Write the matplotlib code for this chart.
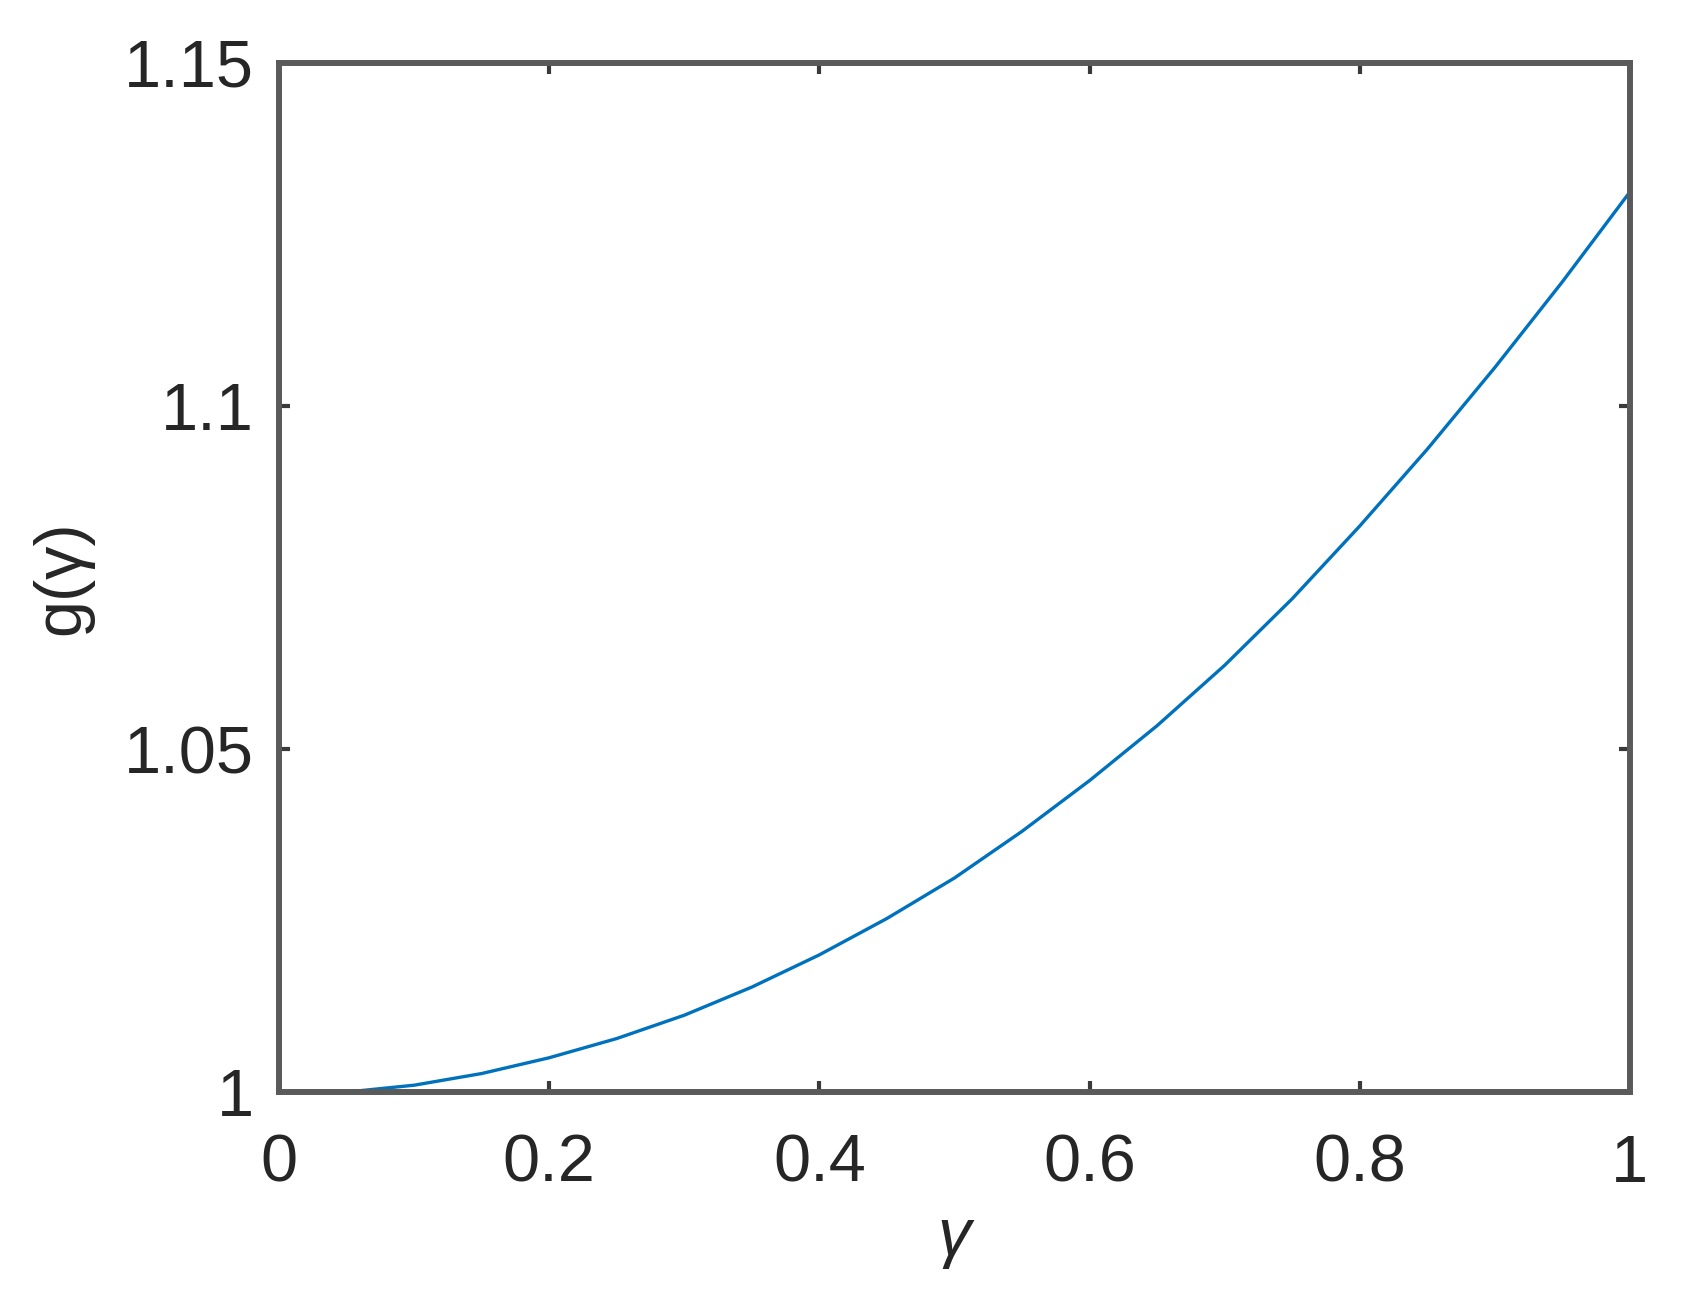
import matplotlib
matplotlib.use("Agg")
import matplotlib.pyplot as plt

# Dados
gamma = [0.05, 0.10, 0.15, 0.20, 0.25, 0.30, 0.35, 0.40, 0.45, 0.50,
         0.55, 0.60, 0.65, 0.70, 0.75, 0.80, 0.85, 0.90, 0.95, 1.00]
g = [1.0000, 1.0010, 1.0027, 1.0050, 1.0078, 1.0112, 1.0153, 1.0200, 1.0253, 1.0312,
     1.0380, 1.0454, 1.0534, 1.0622, 1.0719, 1.0825, 1.0937, 1.1056, 1.1181, 1.1312]

xticks = [0, 0.2, 0.4, 0.6, 0.8, 1]
xtick_labels = ['0', '0.2', '0.4', '0.6', '0.8', '1']
yticks = [1, 1.05, 1.1, 1.15]
ytick_labels = ['1', '1.05', '1.1', '1.15']

plt.rcParams['font.family'] = ['Liberation Sans', 'DejaVu Sans']

fig = plt.figure(figsize=(16.95, 13.11), dpi=100)
ax = fig.add_axes([0.1646, 0.167, 0.797, 0.785])

ax.plot(gamma, g, color='#0072BD', linewidth=2.4, solid_joinstyle='round')

ax.set_xlim(0, 1)
ax.set_ylim(1, 1.15)
ax.set_xticks(xticks)
ax.set_xticklabels(xtick_labels)
ax.set_yticks(yticks)
ax.set_yticklabels(ytick_labels)

for s in ax.spines.values():
    s.set_color('#5a5a5a')
    s.set_linewidth(4.3)

ax.tick_params(direction='in', length=8, width=3, color='#3a3a3a',
               top=True, right=True, labelsize=48, labelcolor='#262626')
ax.tick_params(axis='x', pad=30)
ax.tick_params(axis='y', pad=18)

ax.set_xlabel('γ', fontsize=48, color='#262626', labelpad=8, style='italic')
ax.set_ylabel('g(γ)', fontsize=48, color='#262626', labelpad=22)

fig.savefig('out.png', dpi=100, facecolor='white')
